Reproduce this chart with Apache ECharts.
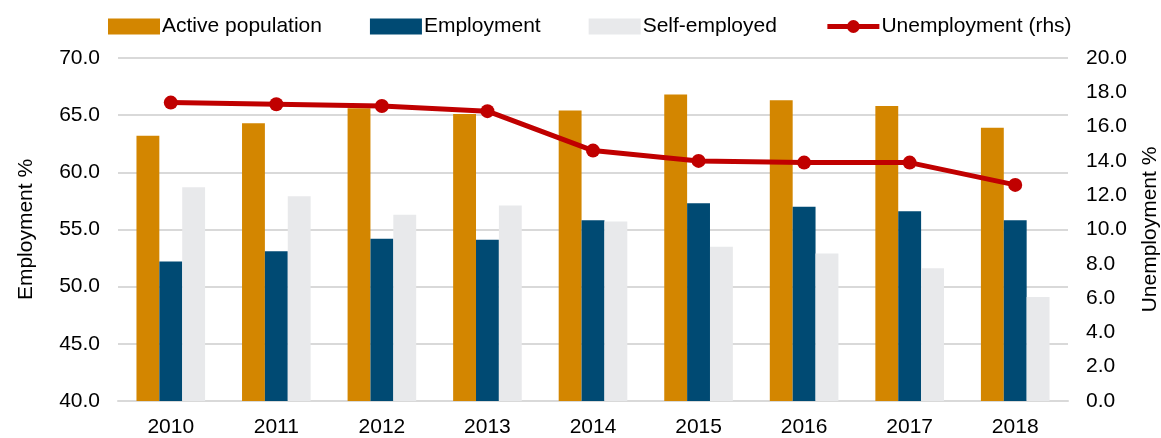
<!DOCTYPE html>
<html><head><meta charset="utf-8">
<script src="https://cdn.jsdelivr.net/npm/echarts@6/dist/echarts.min.js"></script>
<style>html,body{margin:0;padding:0;background:#fff}#c{width:1161px;height:438px}</style>
</head><body><div id="c"></div>
<script>
const categories = ['2010','2011','2012','2013','2014','2015','2016','2017','2018'];
const activePopulation = [63.2, 64.3, 65.6, 65.1, 65.4, 66.8, 66.3, 65.8, 63.9];
const employment = [52.2, 53.1, 54.2, 54.1, 55.8, 57.3, 57.0, 56.6, 55.8];
const selfEmployed = [58.7, 57.9, 56.3, 57.1, 55.7, 53.5, 52.9, 51.6, 49.1];
const unemployment = [17.4, 17.3, 17.2, 16.9, 14.6, 14.0, 13.9, 13.9, 12.6];

const font = 'Liberation Sans, Arial, sans-serif';
const chart = echarts.init(document.getElementById('c'), null, {renderer:'canvas'});
chart.setOption({
  animation:false,
  textStyle:{fontFamily:font},
  legend:{
    top:11, left:103, itemWidth:52, itemHeight:16, itemGap:48,
    textStyle:{fontSize:21, color:'#000', fontFamily:font, padding:[0,0,0,-3]},
    data:[
      {name:'Active population', icon:'rect'},
      {name:'Employment', icon:'rect'},
      {name:'Self-employed', icon:'rect'},
      {name:'Unemployment (rhs)', lineStyle:{width:5, color:'#C00000'}, itemStyle:{color:'#C00000'}}
    ]
  },
  grid:{left:118, right:93, top:58, bottom:37, outerBoundsMode:'none'},
  xAxis:{type:'category', data:categories,
    axisLine:{show:true, lineStyle:{color:'#d9d9d9', width:2}},
    axisTick:{show:false},
    axisLabel:{fontSize:21, color:'#000', margin:16, fontFamily:font}},
  yAxis:[
    {type:'value', min:40, max:70, interval:5, name:'Employment %', nameLocation:'middle', nameGap:81,
      nameTextStyle:{fontSize:21, color:'#000', fontFamily:font},
      axisLabel:{fontSize:21, color:'#000', margin:18, formatter:v=>v.toFixed(1), fontFamily:font},
      splitLine:{lineStyle:{color:'#d9d9d9', width:2}}, axisLine:{show:false}, axisTick:{show:false}},
    {type:'value', min:0, max:20, interval:2, name:'Unemployment %', nameLocation:'middle', nameGap:72,
      nameRotate:90,
      nameTextStyle:{fontSize:21, color:'#000', fontFamily:font},
      axisLabel:{fontSize:21, color:'#000', margin:18, formatter:v=>v.toFixed(1), fontFamily:font},
      splitLine:{show:false}, axisLine:{show:false}, axisTick:{show:false}}
  ],
  series:[
    {name:'Active population', type:'bar', data:activePopulation, itemStyle:{color:'#D38600'}, barGap:'0%', barCategoryGap:'35%'},
    {name:'Employment', type:'bar', data:employment, itemStyle:{color:'#004A73'}, barGap:'0%', barCategoryGap:'35%'},
    {name:'Self-employed', type:'bar', data:selfEmployed, itemStyle:{color:'#E8E9EB'}, barGap:'0%', barCategoryGap:'35%'},
    {name:'Unemployment (rhs)', type:'line', yAxisIndex:1, data:unemployment,
      symbol:'circle', symbolSize:14, lineStyle:{color:'#C00000', width:5},
      itemStyle:{color:'#C00000'}, z:5}
  ]
});
</script></body></html>
